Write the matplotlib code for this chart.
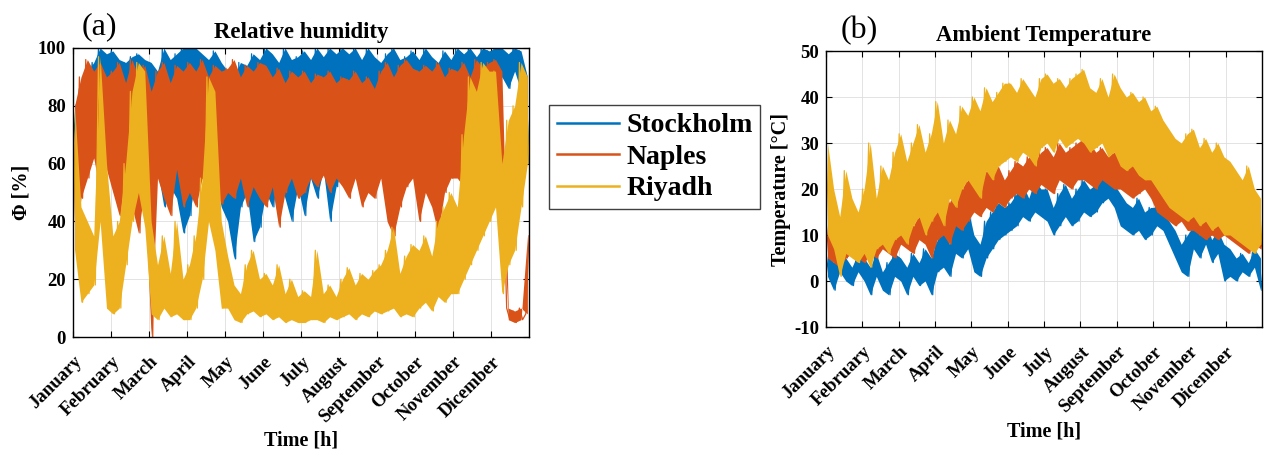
import numpy as np
import matplotlib
matplotlib.use('Agg')
import matplotlib.pyplot as plt
from matplotlib.transforms import ScaledTranslation

plt.rcParams['font.family'] = ['Liberation Serif', 'DejaVu Serif']
plt.rcParams['axes.unicode_minus'] = False

months = ['January', 'February', 'March', 'April', 'May', 'June', 'July',
          'August', 'September', 'October', 'November', 'Dicember']
cities = ['Stockholm', 'Naples', 'Riyadh']
colors = ['#0072BD', '#D95319', '#EDB120']

# Relative humidity [%] (alternating peaks / troughs, ~2.5 days apart)
rh_stockholm = [
    80, 64, 86, 70, 92, 74, 95, 78, 100, 80, 98, 82,
    99, 84, 96, 80, 95, 85, 97, 82, 98, 86, 96, 84,
    95, 70, 92, 58, 100, 45, 96, 52, 98, 48, 100, 36,
    100, 42, 100, 55, 98, 60, 96, 50, 99, 55, 95, 45,
    92, 40, 90, 27, 95, 45, 94, 50, 98, 33, 96, 38,
    100, 50, 98, 45, 95, 55, 100, 48, 96, 40, 97, 52,
    99, 42, 96, 55, 100, 48, 97, 58, 100, 40, 98, 52,
    100, 58, 98, 55, 100, 62, 96, 56, 100, 60, 97, 63,
    95, 62, 98, 65, 100, 60, 96, 63, 97, 66, 99, 62,
    96, 65, 100, 68, 97, 70, 95, 62, 99, 66, 96, 60,
    100, 70, 98, 75, 100, 72, 97, 78, 100, 74, 99, 80,
    100, 88, 100, 90, 98, 86, 100, 92, 99, 85, 90, 60]
rh_naples = [
    80, 30, 90, 48, 96, 55, 92, 62, 95, 50, 90, 58,
    92, 50, 95, 42, 88, 55, 96, 45, 90, 36, 94, 52,
    85, 0, 92, 55, 95, 48, 88, 42, 94, 58, 92, 45,
    95, 50, 92, 45, 96, 55, 90, 48, 94, 52, 92, 46,
    93, 50, 96, 48, 90, 55, 94, 45, 92, 52, 95, 48,
    94, 45, 90, 52, 93, 38, 88, 50, 92, 55, 90, 48,
    92, 50, 88, 55, 91, 52, 90, 56, 92, 50, 88, 55,
    90, 52, 89, 48, 92, 55, 88, 45, 90, 50, 86, 48,
    92, 55, 95, 40, 90, 35, 94, 45, 96, 52, 93, 55,
    92, 40, 94, 50, 92, 45, 95, 36, 90, 50, 93, 55,
    92, 55, 95, 52, 90, 60, 96, 50, 93, 55, 95, 58,
    96, 55, 92, 50, 10, 6, 9, 5, 10, 6, 8, 35]
rh_riyadh = [
    80, 30, 45, 12, 40, 15, 35, 18, 97, 40, 60, 10,
    35, 8, 40, 10, 60, 25, 85, 40, 95, 50, 92, 38,
    40, 8, 25, 6, 35, 10, 22, 7, 40, 8, 20, 6,
    25, 6, 35, 10, 55, 20, 90, 40, 85, 30, 40, 10,
    28, 10, 18, 6, 15, 5, 25, 8, 30, 9, 20, 7,
    22, 8, 18, 6, 25, 7, 15, 5, 20, 6, 14, 5,
    16, 5, 14, 6, 30, 6, 15, 5, 18, 7, 14, 6,
    20, 7, 24, 8, 18, 6, 22, 8, 20, 7, 23, 9,
    25, 8, 30, 9, 38, 10, 22, 7, 28, 8, 32, 7,
    30, 10, 35, 12, 28, 9, 40, 14, 45, 12, 50, 15,
    45, 15, 70, 20, 90, 25, 85, 30, 95, 35, 92, 40,
    92, 45, 60, 15, 75, 25, 80, 30, 95, 45, 90, 60]

# Ambient temperature [°C]
t_stockholm = [
    6, 1, 4, -2, 7, 2, 5, 0, 3, -1, 6, 2,
    5, 0, 3, -3, 6, 1, 2, -2, 4, -3, 6, 1,
    5, 0, 3, -3, 6, 1, 4, -1, 7, 0, 5, -3,
    9, 2, 11, 3, 8, 1, 14, 6, 12, 5, 16, 7,
    10, 2, 8, 1, 13, 5, 15, 7, 17, 9, 16, 10,
    17, 11, 19, 12, 21, 14, 18, 13, 22, 15, 20, 14,
    20, 13, 16, 10, 19, 12, 21, 14, 18, 12, 20, 13,
    22, 15, 20, 14, 21, 15, 23, 17, 22, 18, 21, 16,
    19, 12, 17, 11, 16, 10, 18, 11, 15, 9, 16, 10,
    16, 12, 15, 11, 13, 8, 11, 5, 8, 2, 10, 1,
    12, 7, 10, 5, 13, 8, 9, 4, 11, 6, 8, 0,
    7, 1, 5, 0, 6, 2, 4, 1, 7, 3, 5, -2]
t_naples = [
    13, 5, 11, 4, 12, 3, 10, 5, 13, 6, 12, 5,
    12, 4, 15, 6, 13, 5, 14, 7, 13, 6, 15, 5,
    14, 8, 13, 7, 12, 6, 14, 9, 13, 8, 16, 5,
    18, 9, 20, 10, 17, 8, 21, 12, 20, 11, 22, 13,
    22, 15, 20, 14, 24, 16, 23, 15, 25, 17, 22, 16,
    24, 18, 26, 19, 25, 18, 27, 20, 26, 19, 28, 21,
    29, 20, 27, 19, 30, 22, 28, 21, 29, 20, 30, 22,
    31, 22, 30, 21, 28, 20, 29, 22, 27, 21, 28, 20,
    28, 20, 27, 19, 26, 18, 25, 19, 27, 20, 24, 18,
    23, 15, 22, 14, 21, 13, 20, 12, 21, 13, 19, 11,
    18, 11, 17, 10, 16, 9, 17, 10, 15, 9, 17, 10,
    15, 9, 14, 8, 14, 7, 13, 6, 14, 8, 12, 7]
t_riyadh = [
    30, 10, 20, 7, 14, 1, 24, 6, 18, 5, 15, 4,
    20, 6, 30, 3, 18, 7, 25, 8, 22, 6, 28, 9,
    32, 10, 26, 8, 30, 12, 34, 14, 28, 10, 32, 13,
    39, 15, 30, 12, 35, 18, 32, 16, 38, 20, 36, 22,
    40, 20, 37, 18, 42, 24, 39, 22, 41, 25, 43, 26,
    43, 27, 41, 26, 44, 28, 42, 27, 40, 25, 44, 29,
    45, 30, 43, 28, 44, 31, 42, 29, 44, 30, 45, 31,
    46, 30, 42, 28, 41, 29, 44, 30, 40, 27, 45, 28,
    42, 25, 40, 24, 41, 25, 39, 23, 40, 22, 37, 22,
    38, 20, 35, 18, 33, 16, 31, 15, 30, 14, 32, 13,
    33, 14, 29, 12, 31, 13, 28, 11, 30, 12, 27, 10,
    26, 10, 24, 9, 22, 8, 25, 7, 20, 6, 18, 8]

HOURS = 8760
month_ticks = np.arange(12) * HOURS / 12

fig = plt.figure(figsize=(12.64, 4.58), dpi=100)
W, H = 1264, 458
ax1 = fig.add_axes([73 / W, (H - 337) / H, 456 / W, 289 / H])
ax2 = fig.add_axes([826 / W, (H - 327) / H, 436 / W, 276 / H])

lines = []
for ax, series in ((ax1, (rh_stockholm, rh_naples, rh_riyadh)),
                   (ax2, (t_stockholm, t_naples, t_riyadh))):
    for k, (vals, c, name) in enumerate(zip(series, colors, cities)):
        v = np.asarray(vals, dtype=float)
        x = np.linspace(0, HOURS, len(v))
        xm = (x[0::2] + x[1::2]) / 2
        ax.fill_between(xm, v[1::2], v[0::2], color=c, lw=0, zorder=2 + k)
        ln, = ax.plot(x, v, color=c, lw=0.9, label=name, zorder=2 + k)
        if ax is ax1:
            lines.append(ln)

def style(ax, yticks):
    ax.set_xlim(0, HOURS)
    ax.set_yticks(yticks)
    ax.set_ylim(yticks[0], yticks[-1])
    ax.set_xticks(month_ticks)
    ax.set_xticklabels(months, rotation=45, ha='right', va='center',
                       rotation_mode='anchor', fontsize=13.5, fontweight='bold')
    for lab in ax.get_yticklabels():
        lab.set_fontweight('bold')
        lab.set_fontsize(13.5)
    ax.tick_params(direction='in', top=True, right=True, length=4,
                   width=0.8, color='black')
    ax.tick_params(axis='x', pad=16)
    ax.tick_params(axis='y', pad=5)
    ax.grid(True, color='#dedede', lw=0.6)
    ax.set_axisbelow(True)
    for sp in ax.spines.values():
        sp.set_linewidth(1.0)
        sp.set_color('black')
        sp.set_zorder(10)
    off = ScaledTranslation(0.065, 0, fig.dpi_scale_trans)
    for lab in ax.get_xticklabels():
        lab.set_transform(lab.get_transform() + off)

style(ax1, [0, 20, 40, 60, 80, 100])
style(ax2, [-10, 0, 10, 20, 30, 40, 50])

ax1.set_title('Relative humidity', fontsize=16.5, fontweight='bold', pad=7)
ax2.set_title('Ambient Temperature', fontsize=16.3, fontweight='bold', pad=7)
ax1.set_ylabel('Φ [%]', fontsize=14.5, fontweight='bold')
ax2.set_ylabel('Temperature [°C]', fontsize=14.5, fontweight='bold')
ax1.set_xlabel('Time [h]', fontsize=14.5, fontweight='bold')
ax2.set_xlabel('Time [h]', fontsize=14.5, fontweight='bold')
ax1.yaxis.set_label_coords(-0.090, 0.5)
ax2.yaxis.set_label_coords(-0.081, 0.5)
ax1.xaxis.set_label_coords(0.5, -0.322)
ax2.xaxis.set_label_coords(0.5, -0.341)

fig.text(99 / W, (H - 27) / H, '(a)', fontsize=23, ha='center', va='center')
fig.text(859 / W, (H - 31) / H, '(b)', fontsize=23, ha='center', va='center')

leg = fig.legend(handles=lines, loc='upper left',
                 bbox_to_anchor=(549 / W, (H - 105) / H),
                 prop={'family': 'Liberation Serif', 'weight': 'bold', 'size': 20},
                 frameon=True, fancybox=False, edgecolor='#404040',
                 framealpha=1, borderaxespad=0, borderpad=0.28,
                 handlelength=2.25, handletextpad=0.25, labelspacing=0.22)
leg.get_frame().set_linewidth(1.0)
for h in leg.legend_handles:
    h.set_linewidth(1.8)

fig.savefig('out.png', dpi=100)
